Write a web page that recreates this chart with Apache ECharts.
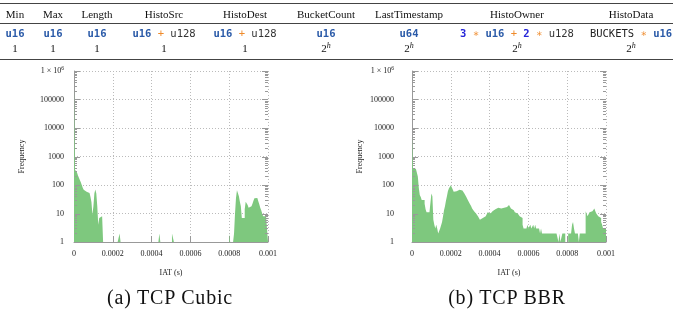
<!DOCTYPE html>
<html><head><meta charset="utf-8">
<script src="https://cdn.jsdelivr.net/npm/echarts@6/dist/echarts.min.js"></script>
<style>
html,body{margin:0;padding:0;background:#fff;width:673px;height:320px;overflow:hidden}
#chart{position:absolute;left:0;top:0;width:673px;height:320px}
#table{position:absolute;left:0;top:0;width:673px;height:62px;font-family:"Liberation Serif",serif;color:#111;overflow:hidden}
.rule{position:absolute;left:0;width:673px;height:1px;background:#444}
.cell{position:absolute;white-space:nowrap;transform:translateX(-50%);font-size:11px;line-height:13px}
.code{font-family:"DejaVu Sans Mono",monospace;font-size:10.5px}
.t{color:#2a5aa8;font-weight:bold}
.op{color:#ef8a2a}
.n{color:#2424d8;font-weight:bold}
.g{color:#333}
.k{color:#222}
sup{font-size:8px;line-height:0;vertical-align:4px}
.cap{position:absolute;transform:translateX(-50%);font-family:"Liberation Serif",serif;font-size:20px;line-height:24px;white-space:nowrap;color:#111}
</style></head>
<body>
<div id="chart"></div>
<div id="table"></div>
<div id="caps"></div>
<script>
// ---------- table content ----------
const columns = ['Min','Max','Length','HistoSrc','HistoDest','BucketCount','LastTimestamp','HistoOwner','HistoData'];
const typeRow = [
  [['t','u16']],
  [['t','u16']],
  [['t','u16']],
  [['t','u16'],['op','+'],['g','u128']],
  [['t','u16'],['op','+'],['g','u128']],
  [['t','u16']],
  [['t','u64']],
  [['n','3'],['op','∗'],['t','u16'],['op','+'],['n','2'],['op','∗'],['g','u128']],
  [['k','BUCKETS'],['op','∗'],['t','u16']]
];
const countRow = ['1','1','1','1','1','2^h','2^h','2^h','2^h'];
// captions
const captions = ['(a) TCP Cubic','(b) TCP BBR'];

// ---------- chart data (5 µs bins, 0 .. 0.001 s) ----------
const binWidth = 0.000005;
const xMax = 0.001;
const xTickLabels = ['0','0.0002','0.0004','0.0006','0.0008','0.001'];
const yTickLabels = ['1','10','100','1000','10000','100000','1 × 10^6'];
const cubicFreq = [
  250000,340,330,280,220,190,150,125,100,80,
  68,62,58,56,54,52,45,38,25,9,
  18,50,70,50,18,4,7,6,8,7,
  1,1,1,1,1,1,1,1,1,1,
  1,1,1,1,1,1,1,2,1,1,
  1,1,1,1,1,1,1,1,1,1,
  1,1,1,1,1,1,1,1,1,1,
  1,1,1,1,1,1,1,1,1,1,
  1,1,1,1,1,1,1,1,2,1,
  1,1,1,1,1,1,1,1,1,1,
  1,2,2,1,1,1,1,1,1,1,
  1,1,1,1,1,1,1,1,1,1,
  1,1,1,1,1,1,1,1,1,1,
  1,1,1,1,1,1,1,1,1,1,
  1,1,1,1,1,1,1,1,1,1,
  1,1,1,1,1,1,1,1,1,1,
  2,1,1,1,1,2,10,35,66,60,
  40,26,18,7,6,7,14,26,24,20,
  16,17,18,17,22,28,34,36,35,31,
  27,21,16,13,10,8,8,8,9,8
];
const bbrFreq = [
  5000,380,390,370,380,360,200,80,45,38,
  30,32,30,22,14,11,10,11,11,12,
  50,40,6,4,3,4,3,2,2,3,
  3,5,8,13,18,28,40,60,75,88,
  98,85,70,58,62,60,58,64,68,72,
  68,64,60,55,50,44,38,32,28,24,
  21,18,15,13,12,11,10,9,8,7,
  6,7,7,6,7,8,8,9,11,11,
  10,10,11,12,13,14,15,16,16,15,
  16,15,16,17,16,16,17,17,18,18,
  20,19,15,14,13,12,11,10,10,9,
  9,8,8,7,4,3,3,3,3,4,
  3,3,4,3,3,4,3,4,3,3,
  3,3,2,3,2,2,2,2,2,2,
  2,2,2,2,2,2,2,2,2,2,
  2,1,2,1,1,2,2,2,1,1,
  1,2,2,2,2,4,5,3,2,2,
  2,2,1,2,2,2,2,2,2,12,
  10,8,9,11,10,12,11,13,15,12,
  10,9,8,8,7,5,4,3,3,3
];
const minorMultipliers = [2,3,4,5,6,7,8,9];

// ---------- layout / style ----------
const colX = [15,53,97,164,245,326,409,517,631];
const serif = '"Liberation Serif", serif';
const green = '#7ec87e';
const axisGray = '#999';
const gridGray = '#bbb';
const textCol = '#222';

// build table
(function(){
  const T = document.getElementById('table');
  let h = '';
  h += '<div class="rule" style="top:3px"></div>';
  h += '<div class="rule" style="top:23px;height:0.8px"></div>';
  h += '<div class="rule" style="top:59px"></div>';
  const fmtCount = s => s.includes('^') ? s.split('^')[0] + '<sup><i>' + s.split('^')[1] + '</i></sup>' : s;
  columns.forEach((c,i)=>{
    h += `<div class="cell" style="left:${colX[i]}px;top:8px">${c}</div>`;
    const parts = typeRow[i].map(p=>`<span class="${p[0]}">${p[1]}</span>`).join(' ');
    h += `<div class="cell code" style="left:${colX[i]}px;top:27px">${parts}</div>`;
    h += `<div class="cell" style="left:${colX[i]}px;top:42px">${fmtCount(countRow[i])}</div>`;
  });
  T.innerHTML = h;
  const C = document.getElementById('caps');
  const capX = [170,507];
  C.innerHTML = captions.map((c,i)=>`<div class="cap" style="left:${capX[i]}px;top:285px;letter-spacing:0.8px">${c}</div>`).join('');
})();

const yTickMarks = [];
for (let k=0;k<=6;k++){ yTickMarks.push([0, Math.pow(10,k), 6]); if(k<6) minorMultipliers.forEach(m=>yTickMarks.push([0, m*Math.pow(10,k), 3])); }

function histoSeries(values, idx){
  const data = values.map((v,i)=>[i*binWidth, v]);
  data.push([xMax, values[values.length-1]]);
  return {type:'line', xAxisIndex:idx, yAxisIndex:idx, step:'end', data, symbol:'none', showSymbol:false,
    lineStyle:{width:0, color:green}, itemStyle:{color:green}, areaStyle:{color:green, opacity:1, origin:'start'},
    silent:true, zlevel:1, z:2, animation:false};
}
function tickSeries(idx){
  return {type:'custom', xAxisIndex:idx, yAxisIndex:idx, silent:true, zlevel:1, z:5, animation:false, clip:false,
    data: yTickMarks,
    renderItem(params, api){
      const v = api.value(1), len = api.value(2);
      const a = api.coord([0, v]), b = api.coord([xMax, v]);
      const y = Math.round(a[1]) + 0.5;
      return {type:'group', children:[
        {type:'line', shape:{x1:a[0]+1, y1:y, x2:a[0]+len, y2:y}, style:{stroke:axisGray, lineWidth:1}},
        {type:'line', shape:{x1:b[0]-len, y1:y, x2:b[0], y2:y}, style:{stroke:axisGray, lineWidth:1}}
      ]};
    }};
}
function xAxis(idx){
  return {type:'value', gridIndex:idx, min:0, max:xMax, interval:0.0002,
    name:'IAT (s)', nameLocation:'middle', nameGap:27,
    nameTextStyle:{fontFamily:serif, fontSize:8, color:textCol},
    axisLine:{lineStyle:{color:axisGray, width:1}},
    axisTick:{inside:true, length:6, lineStyle:{color:axisGray}},
    axisLabel:{fontFamily:serif, fontSize:8, color:textCol, margin:8, formatter:(v,i)=>xTickLabels[i]},
    splitLine:{show:true, lineStyle:{color:gridGray, type:[1,2], width:1}}};
}
function yAxis(idx, margin){
  return {type:'log', gridIndex:idx, min:1, max:1e6, logBase:10, splitNumber:6,
    name:'Frequency', nameLocation:'middle', nameGap:48, nameRotate:90,
    nameTextStyle:{fontFamily:serif, fontSize:8, color:textCol},
    axisLine:{lineStyle:{color:axisGray, width:1}},
    axisTick:{show:false},
    axisLabel:{fontFamily:serif, fontSize:8, color:textCol, margin:margin,
      formatter:(v,i)=>{ const s = yTickLabels[i]; if(s && s.includes('^')){ const p=s.split('^'); return '{a|'+p[0]+'}{s|'+p[1]+'}'; } return s; },
      rich:{a:{fontFamily:serif, fontSize:8, color:textCol}, s:{fontFamily:serif, fontSize:5.5, color:textCol, padding:[0,0,5,0]}}},
    splitLine:{show:true, lineStyle:{color:gridGray, type:[1,2], width:1}}};
}

const chart = echarts.init(document.getElementById('chart'), null, {renderer:'canvas'});
chart.setOption({
  animation:false,
  backgroundColor:'#fff',
  grid:[
    {left:74, top:71, width:194, height:171},
    {left:412, top:71, width:194, height:171}
  ],
  xAxis:[xAxis(0), xAxis(1)],
  yAxis:[yAxis(0,10), yAxis(1,18)],
  series:[histoSeries(cubicFreq,0), histoSeries(bbrFreq,1), tickSeries(0), tickSeries(1)]
});
</script>
</body></html>
